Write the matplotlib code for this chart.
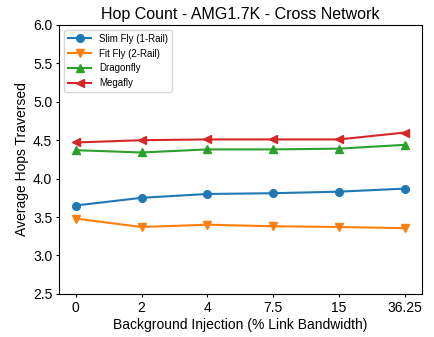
import matplotlib
matplotlib.use("Agg")
import matplotlib.pyplot as plt

plt.rcParams['font.family'] = ['Liberation Sans', 'DejaVu Sans']

x_labels = ["0", "2", "4", "7.5", "15", "36.25"]
slim_fly = [3.65, 3.75, 3.80, 3.81, 3.83, 3.87]
fit_fly = [3.48, 3.37, 3.40, 3.38, 3.37, 3.355]
dragonfly = [4.37, 4.34, 4.38, 4.38, 4.39, 4.44]
megafly = [4.47, 4.50, 4.51, 4.51, 4.51, 4.60]

fig = plt.figure(figsize=(4.35, 3.37), dpi=100)
ax = fig.add_axes([0.136, 0.128, 0.833, 0.798])

xs = range(len(x_labels))
ax.plot(xs, slim_fly, marker='o', color='#1f77b4', label='Slim Fly (1-Rail)', markersize=5.5)
ax.plot(xs, fit_fly, marker='v', color='#ff7f0e', label='Fit Fly (2-Rail)', markersize=5.5)
ax.plot(xs, dragonfly, marker='^', color='#2ca02c', label='Dragonfly', markersize=5.5)
ax.plot(xs, megafly, marker='<', color='#d62728', label='Megafly', markersize=5.5)

ax.set_ylim(2.5, 6.0)
ax.set_xticks(list(xs))
ax.set_xticklabels(x_labels)
ax.tick_params(length=2.5, pad=2.5, labelsize=10)
ax.set_xlabel('Background Injection (% Link Bandwidth)', labelpad=2)
ax.set_ylabel('Average Hops Traversed', labelpad=3)
ax.set_title('Hop Count - AMG1.7K - Cross Network', fontsize=11.5, pad=4)
ax.legend(loc='upper left', fontsize=7, handlelength=2.4)

fig.savefig('out.png', dpi=100)
